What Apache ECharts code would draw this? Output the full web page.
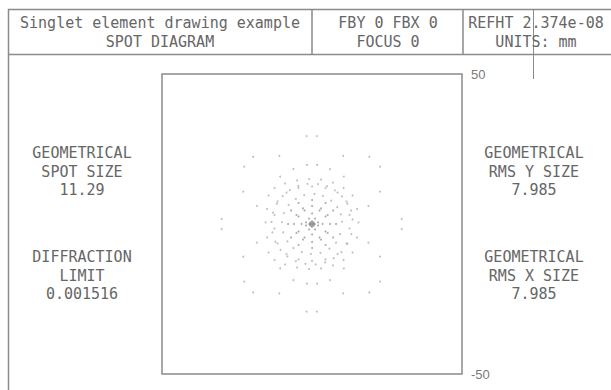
<!DOCTYPE html>
<html>
<head>
<meta charset="utf-8">
<script src="https://cdn.jsdelivr.net/npm/echarts@6/dist/echarts.min.js"></script>
<style>
  html, body { margin: 0; padding: 0; background: #fff; }
  #chart { width: 611px; height: 390px; }
</style>
</head>
<body>
<div id="chart"></div>
<script>
// Title block text
const titleLines = ['Singlet element drawing example', 'SPOT DIAGRAM'];
const fieldLines = ['FBY 0 FBX 0', 'FOCUS 0'];
const refLines = ['REFHT 2.374e-08', 'UNITS: mm'];
const leftNotes = [['GEOMETRICAL', 'SPOT SIZE', '11.29'], ['DIFFRACTION', 'LIMIT', '0.001516']];
const rightNotes = [['GEOMETRICAL', 'RMS Y SIZE', '7.985'], ['GEOMETRICAL', 'RMS X SIZE', '7.985']];

// Axis extent (mm) and tick labels
const axisMin = -50;
const axisMax = 50;
const tickLabels = ['-50', '50'];

// Ray intercepts (x, y in mm)
const outerSpots = [
  [-1.8, 29.3], [1.6, 29.3], [-1.8, -29.2], [1.6, -29.2],
  [-30.1, 1.7], [-30.1, -1.7], [29.9, 1.7], [29.9, -1.7],
  [-19.6, 22.4], [-10.9, 22.7], [10.4, 22.7], [19.1, 22.4], [-22.6, 19.1], [22.7, 19.1],
  [-19.6, -22.8], [-10.9, -23.1], [10.4, -23.1], [19.1, -22.8], [-22.6, -19.2], [22.7, -19.2],
  [-22.9, 10.8], [22.7, 10.8], [-22.9, -10.9], [22.7, -10.9],
  [-18.4, 6.0], [-18.4, -6.2], [18.8, 6.0], [18.8, -6.2],
  [-6.2, 18.3], [6.0, 18.3], [-6.2, -18.7], [6.0, -18.7],
  [-1.7, 19.7], [1.7, 19.7], [-1.7, -19.9], [1.7, -19.9],
  [-10.6, 15.8], [10.6, 15.8], [-10.6, -14.8], [10.6, -14.8]
];
const midSpots = [
  [-14.5, 9.5], [-12.5, 12.0], [-9.0, 13.5], [-5.0, 14.5], [-1.0, 15.0], [3.0, 14.8], [7.0, 13.8], [10.5, 12.0], [13.5, 9.5],
  [-15.0, 5.0], [-15.5, 0.5], [-15.0, -4.5], [15.0, 5.0], [15.5, 0.5], [15.0, -4.5],
  [-14.5, -9.5], [-12.5, -12.0], [-9.0, -13.5], [-5.0, -14.5], [-1.0, -15.0], [3.0, -14.8], [7.0, -13.8], [10.5, -12.0], [13.5, -9.5],
  [-11.5, 7.5], [-8.5, 10.5], [-4.5, 12.0], [0.0, 12.5], [4.5, 12.0], [8.5, 10.5], [11.5, 7.5],
  [-12.5, 3.0], [-12.5, -1.5], [12.5, 3.0], [12.5, -1.5],
  [-11.5, -6.5], [-8.5, -10.0], [-4.5, -11.8], [0.0, -12.3], [4.5, -11.8], [8.5, -10.0], [11.5, -6.5],
  [13.5, 1.5], [13.0, 4.5], [11.8, 6.8], [10.0, 9.2], [7.6, 11.2], [5.0, 12.6], [2.0, 13.3], [-1.5, 13.4],
  [-4.6, 12.7], [-7.4, 11.3], [-9.8, 9.3], [-11.7, 6.8], [-13.0, 3.8], [-13.5, 0.7], [-13.2, -2.8], [-12.2, -5.9],
  [-10.5, -8.6], [-8.2, -10.8], [-5.4, -12.4], [-2.2, -13.3], [1.2, -13.5], [4.4, -12.8], [7.2, -11.4], [9.8, -9.4],
  [11.8, -6.6], [13.1, -3.4],
  [10.0, 0.8], [9.6, 3.2], [8.4, 5.6], [6.4, 7.8], [3.6, 9.4], [0.8, 10.0], [-2.6, 9.6], [-5.4, 8.4],
  [-7.8, 6.4], [-9.4, 3.6], [-10.0, 0.6], [-9.6, -2.8], [-8.2, -5.8], [-6.2, -8.0], [-3.4, -9.4], [-0.4, -10.0],
  [2.8, -9.6], [5.8, -8.2], [8.0, -6.2], [9.4, -3.4]
];
const innerSpots = [
  [-7.0, 4.5], [-4.5, 7.0], [0.0, 8.0], [4.5, 7.0], [7.0, 4.5], [8.0, 0.0],
  [7.0, -4.5], [4.5, -7.0], [0.0, -8.0], [-4.5, -7.0], [-7.0, -4.5], [-8.0, 0.0],
  [-4.5, 2.5], [-2.5, 4.5], [2.5, 4.5], [4.5, 2.5], [4.5, -2.5], [2.5, -4.5], [-2.5, -4.5], [-4.5, -2.5],
  [0.0, 3.5], [0.0, -3.5], [-3.5, 0.0], [3.5, 0.0],
  [6.0, 0.0], [5.2, 3.0], [3.0, 5.2], [0.0, 6.0], [-3.0, 5.2], [-5.2, 3.0],
  [-6.0, 0.0], [-5.2, -3.0], [-3.0, -5.2], [0.0, -6.0], [3.0, -5.2], [5.2, -3.0],
  [2.0, 0.5], [1.0, 1.8], [-1.0, 1.8], [-2.0, 0.5], [-2.0, -0.5], [-1.0, -1.8], [1.0, -1.8], [2.0, -0.5]
];
const coreSpots = [
  [0.0, 0.0], [0.5, 0.4], [-0.5, 0.4], [0.5, -0.4], [-0.5, -0.4], [0.0, 0.8], [0.0, -0.8], [0.8, 0.0], [-0.8, 0.0]
];

const ink = '#666';
const rule = '#8a8a8a';
const mono = '"DejaVu Sans Mono", "Liberation Mono", monospace';

function textEl(str, x, y, align) {
  return {
    type: 'text', x: x, y: y, silent: true,
    style: { text: str, fill: ink, font: '15px ' + mono, textAlign: align || 'center', textVerticalAlign: 'middle' }
  };
}

const graphics = [];
// title block frame
graphics.push({ type: 'polyline', silent: true, shape: { points: [[640, 9.5], [8.5, 9.5], [8.5, 400]] }, style: { stroke: rule, lineWidth: 1.5, fill: null } });
graphics.push({ type: 'line', silent: true, shape: { x1: 8.5, y1: 54.5, x2: 640, y2: 54.5 }, style: { stroke: rule, lineWidth: 1.5 } });
graphics.push({ type: 'line', silent: true, shape: { x1: 312, y1: 9.5, x2: 312, y2: 54.5 }, style: { stroke: rule, lineWidth: 1.5 } });
graphics.push({ type: 'line', silent: true, shape: { x1: 463, y1: 9.5, x2: 463, y2: 54.5 }, style: { stroke: rule, lineWidth: 1.5 } });
graphics.push({ type: 'line', silent: true, shape: { x1: 533.5, y1: 9.5, x2: 533.5, y2: 79 }, style: { stroke: rule, lineWidth: 1 } });

titleLines.forEach((s, i) => graphics.push(textEl(s, 160, 23 + i * 19)));
fieldLines.forEach((s, i) => graphics.push(textEl(s, 388, 23 + i * 19)));
refLines.forEach((s, i) => graphics.push(textEl(s, 536, 23 + i * 19)));
leftNotes.forEach((block, b) => block.forEach((s, i) => graphics.push(textEl(s, 82, 153 + b * 104 + i * 18.5))));
rightNotes.forEach((block, b) => block.forEach((s, i) => graphics.push(textEl(s, 534, 153 + b * 104 + i * 18.5))));

const chart = echarts.init(document.getElementById('chart'), null, { renderer: 'svg' });
chart.setOption({
  animation: false,
  backgroundColor: '#fff',
  grid: { left: 162, top: 74, width: 300, height: 300, show: true, borderColor: rule, borderWidth: 1.5, backgroundColor: 'transparent' },
  xAxis: {
    type: 'value', min: axisMin, max: axisMax,
    axisLine: { show: false }, axisTick: { show: false }, axisLabel: { show: false }, splitLine: { show: false }
  },
  yAxis: {
    type: 'value', position: 'right', min: axisMin, max: axisMax, interval: 50,
    axisLine: { show: false }, axisTick: { show: false }, splitLine: { show: false },
    axisLabel: {
      margin: 9, color: '#7a7a7a', fontSize: 13, fontFamily: '"Liberation Sans", Arial, sans-serif',
      formatter: v => tickLabels.includes(String(v)) ? String(v) : ''
    }
  },
  series: [
    { type: 'scatter', data: outerSpots, symbol: 'circle', symbolSize: 2, itemStyle: { color: '#b0b0b0' }, silent: true },
    { type: 'scatter', data: midSpots, symbol: 'circle', symbolSize: 2, itemStyle: { color: '#b0b0b0' }, silent: true },
    { type: 'scatter', data: innerSpots, symbol: 'circle', symbolSize: 2, itemStyle: { color: '#9a9a9a' }, silent: true },
    { type: 'scatter', data: coreSpots, symbol: 'circle', symbolSize: 2.5, itemStyle: { color: '#888' }, silent: true }
  ],
  graphic: graphics
});
</script>
</body>
</html>
